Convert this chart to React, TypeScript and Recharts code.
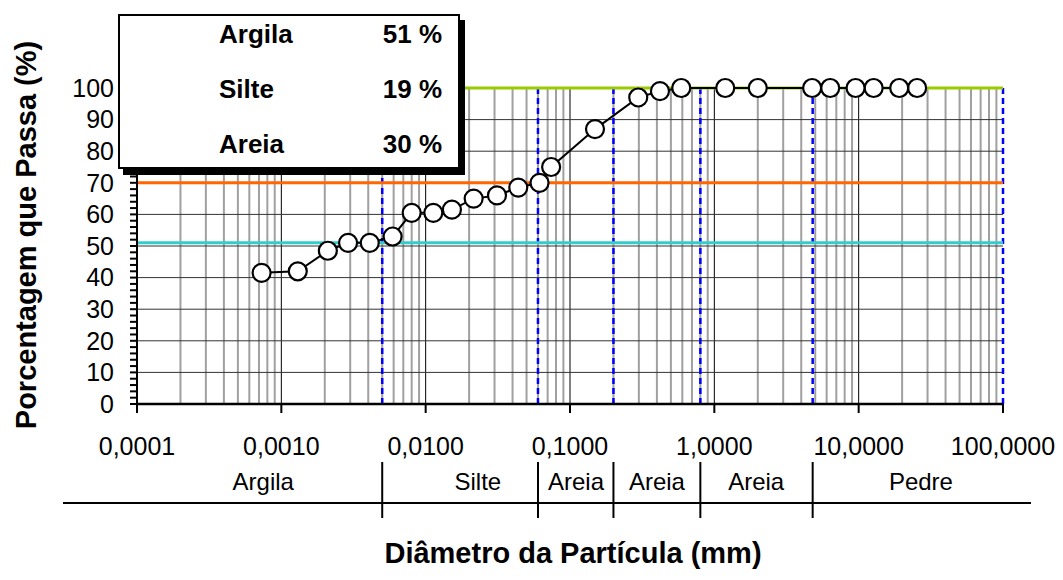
import React from 'react';
import { ComposedChart, Line, XAxis, YAxis, ReferenceLine } from 'recharts';

// Curva granulométrica: diâmetro (mm) x porcentagem que passa
const diametros = [
  25.4, 19.1, 12.7, 9.52, 6.35, 4.76, 2.0, 1.19, 0.59, 0.42, 0.297, 0.149, 0.074,
  0.0615, 0.0438, 0.0312, 0.0215, 0.0152, 0.0113, 0.008, 0.0059, 0.0041, 0.0029, 0.0021, 0.0013, 0.00073,
];
const passantes = [
  100, 100, 100, 100, 100, 100, 100, 100, 100, 99, 97, 87, 75,
  70, 68.5, 66, 65, 61.5, 60.5, 60.5, 53, 51, 51, 48.5, 42, 41.5,
];

// frações do solo (caixa de resumo)
const fracoes = ['Argila', 'Silte', 'Areia'];
const percentuais = [51, 19, 30];
const coresAcumulado = ['#33cccc', '#ff6600', '#99cc00'];

// eixos
const decadas = [0.0001, 0.001, 0.01, 0.1, 1, 10, 100];
const ticksY = Array.from({ length: 51 }, (_, i) => i * 2);
const gradeY = [10, 20, 30, 40, 50, 60, 70, 80, 90];

// faixas de classificação abaixo do eixo
const limitesFaixa = [0.005, 0.06, 0.2, 0.8, 4.8];
const nomesFaixa = ['Argila', 'Silte', 'Areia', 'Areia', 'Areia', 'Pedre'];
const posNomesFaixa = [0.00075, 0.023, 0.11, 0.4, 1.95, 27];

const data = diametros.map((d, i) => ({ d, p: passantes[i] }));

// linhas secundárias da escala log (2..9 em cada década)
const gradeMenor: number[] = [];
decadas.slice(0, -1).forEach((dec) => {
  for (let k = 2; k <= 9; k++) gradeMenor.push(k * dec);
});

// 51, 70, 100
const acumulados = percentuais.map((_, i) =>
  percentuais.slice(0, i + 1).reduce((a, b) => a + b, 0)
);

const formataDiametro = (v: number) => v.toFixed(4).replace('.', ',');

// um só eixo X desenha: marcas das décadas, rótulos e a faixa de classificação
function TickX(props: any) {
  const { x, y, payload } = props;
  const v = payload.value;
  if (decadas.includes(v)) {
    return (
      <g>
        <line x1={x} x2={x} y1={y} y2={y + 9} stroke="#000" strokeWidth={2} />
        <text x={x} y={y + 51} textAnchor="middle" fontSize={25} fill="#000">
          {formataDiametro(v)}
        </text>
      </g>
    );
  }
  const i = posNomesFaixa.indexOf(v);
  if (i >= 0) {
    return (
      <text x={x} y={y + 86} textAnchor="middle" fontSize={24} fill="#000">
        {nomesFaixa[i]}
      </text>
    );
  }
  return <line x1={x} x2={x} y1={y + 58} y2={y + 114} stroke="#000" strokeWidth={2} />;
}

export default function App() {
  const fonte = '"Liberation Sans", Arial, sans-serif';
  return (
    <div style={{ position: 'relative', width: 1063, height: 580, fontFamily: fonte, background: '#fff' }}>
      <style>{'body{margin:0}'}</style>
      <ComposedChart
        width={1063}
        height={580}
        data={data}
        margin={{ top: 88, right: 60, bottom: 38, left: 77 }}
        style={{ fontFamily: fonte }}
      >
        <XAxis
          xAxisId="d"
          dataKey="d"
          type="number"
          scale="log"
          domain={[0.0001, 100]}
          ticks={[...decadas, ...limitesFaixa, ...posNomesFaixa]}
          interval={0}
          height={138}
          tickSize={0}
          tickMargin={0}
          tick={<TickX />}
          tickLine={false}
          axisLine={{ stroke: '#000', strokeWidth: 2.5 }}
        />
        <YAxis
          type="number"
          domain={[0, 100]}
          ticks={ticksY}
          interval={0}
          width={60}
          tickFormatter={(v: number) => (v % 10 === 0 ? String(v) : '')}
          tickSize={7}
          tickMargin={16}
          tick={{ fontSize: 25, fill: '#000' }}
          tickLine={{ stroke: '#000', strokeWidth: 2 }}
          axisLine={{ stroke: '#000', strokeWidth: 2 }}
        />

        {gradeMenor.map((v) => (
          <ReferenceLine key={'m' + v} xAxisId="d" x={v} stroke="#a0a0a0" strokeWidth={2} />
        ))}
        {decadas.slice(1, -1).map((v) => (
          <ReferenceLine key={'D' + v} xAxisId="d" x={v} stroke="#000" strokeWidth={1} />
        ))}
        {gradeY.map((v) => (
          <ReferenceLine key={'y' + v} xAxisId="d" y={v} stroke="#333" strokeWidth={1} />
        ))}
        {[...limitesFaixa, 100].map((v) => (
          <ReferenceLine
            key={'b' + v}
            xAxisId="d"
            x={v}
            stroke="#0000ff"
            strokeWidth={2.5}
            strokeDasharray="6 4"
          />
        ))}
        {acumulados.map((v, i) => (
          <ReferenceLine key={'a' + v} xAxisId="d" y={v} stroke={coresAcumulado[i]} strokeWidth={3} />
        ))}

        <Line
          xAxisId="d"
          type="linear"
          dataKey="p"
          stroke="#000"
          strokeWidth={2}
          dot={{ r: 9, fill: '#fff', stroke: '#000', strokeWidth: 2.2 }}
          activeDot={false}
          isAnimationActive={false}
        />
      </ComposedChart>

      <svg
        width={1063}
        height={580}
        style={{ position: 'absolute', left: 0, top: 0, pointerEvents: 'none' }}
      >
        <text
          x={36}
          y={235}
          transform="rotate(-90 36 235)"
          textAnchor="middle"
          fontSize={29}
          fontWeight="bold"
          fontFamily={fonte}
          fill="#000"
        >
          Porcentagem que Passa (%)
        </text>
        <text x={573} y={563} textAnchor="middle" fontSize={29} fontWeight="bold" fontFamily={fonte} fill="#000">
          Diâmetro da Partícula (mm)
        </text>
        <line x1={63} x2={1031} y1={503} y2={503} stroke="#000" strokeWidth={2} />
      </svg>

      <div
        style={{
          position: 'absolute',
          left: 118,
          top: 14,
          width: 342,
          height: 155,
          boxSizing: 'border-box',
          border: '2px solid #000',
          boxShadow: '5px 6px 0 #000',
          background: '#fff',
        }}
      >
        {fracoes.map((f, i) => (
          <div
            key={f}
            style={{
              position: 'absolute',
              left: 99,
              right: 16,
              top: 3 + i * 55,
              height: 30,
              lineHeight: '30px',
              display: 'flex',
              justifyContent: 'space-between',
              fontSize: 26,
              fontWeight: 'bold',
              color: '#000',
            }}
          >
            <span>{f}</span>
            <span>{percentuais[i]} %</span>
          </div>
        ))}
      </div>
    </div>
  );
}
